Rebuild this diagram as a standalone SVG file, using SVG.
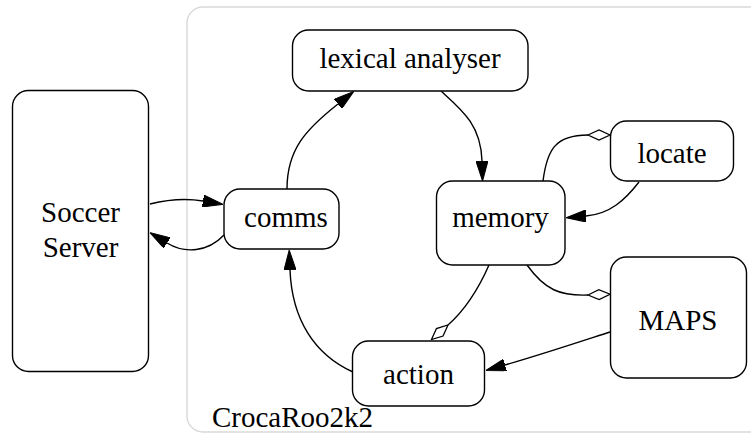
<svg xmlns="http://www.w3.org/2000/svg" width="751" height="435" viewBox="0 0 751 435">
<defs>
<style>
.node rect{fill:#fff;stroke:#000;stroke-width:1.4}
.lbl{font-family:"Liberation Serif","Times New Roman",serif;font-size:29px;fill:#000;text-anchor:middle}
.edge{fill:none;stroke:#000;stroke-width:1.4}
.ar{marker-end:url(#arrow)}
.dm{marker-end:url(#diamond)}
</style>
<marker id="arrow" viewBox="0 0 20 12" refX="0" refY="6" markerWidth="20" markerHeight="12" markerUnits="userSpaceOnUse" orient="auto">
<path d="M0,0 L20,6 L0,12 Z" fill="#000" stroke="#000" stroke-width="1"/>
</marker>
<marker id="diamond" viewBox="-1 -1 24 12" refX="0" refY="5" markerWidth="24" markerHeight="12" markerUnits="userSpaceOnUse" orient="auto">
<path d="M0,5 L11,0 L22,5 L11,10 Z" fill="#fff" stroke="#000" stroke-width="1.3"/>
</marker>
</defs>
<rect width="751" height="435" fill="#fff"/>
<g id="cluster_CrocaRoo2k2">
<rect x="187" y="7" width="600" height="425" rx="16" fill="none" stroke="#d9d9d9" stroke-width="1.4"/>
<text class="lbl" x="212" y="427" style="text-anchor:start">CrocaRoo2k2</text>
</g>
<g id="edges">
<path class="edge ar" d="M150,204 C170,199 185,198 203,201"/>
<path class="edge ar" d="M224,235 C208,252 185,254 167,243"/>
<path class="edge ar" d="M287,189 C287,150 305,130 338,104"/>
<path class="edge ar" d="M441,91 C462,110 481,125 482,161"/>
<path class="edge dm" d="M543,181 C547,150 555,135 588,135"/>
<path class="edge ar" d="M639,182 C625,200 610,214 586,216"/>
<path class="edge dm" d="M527,265 C545,290 560,296 588,295"/>
<path class="edge dm" d="M489,265 C478,290 465,310 448,325"/>
<path class="edge ar" d="M610,332 C570,345 540,355 505,365"/>
<path class="edge ar" d="M353,372 C315,355 292,320 290,270"/>
</g>
<g id="soccer_server" class="node">
<rect x="12.5" y="90.5" width="136" height="281" rx="16"/>
<text class="lbl" x="80.5" y="222">Soccer</text>
<text class="lbl" x="80.5" y="257">Server</text>
</g>
<g id="lexical_analyser" class="node">
<rect x="292.5" y="30" width="235.5" height="61" rx="16"/>
<text class="lbl" x="410" y="68">lexical analyser</text>
</g>
<g id="comms" class="node">
<rect x="224" y="189" width="115" height="60" rx="16"/>
<text class="lbl" x="286" y="227">comms</text>
</g>
<g id="memory" class="node">
<rect x="436.5" y="181" width="128.5" height="84" rx="16"/>
<text class="lbl" x="500.5" y="227">memory</text>
</g>
<g id="locate" class="node">
<rect x="610.5" y="121" width="123" height="60" rx="16"/>
<text class="lbl" x="672" y="163">locate</text>
</g>
<g id="MAPS" class="node">
<rect x="610.5" y="257" width="136" height="121" rx="16"/>
<text class="lbl" x="678" y="330">MAPS</text>
</g>
<g id="action" class="node">
<rect x="352.5" y="341" width="132" height="65" rx="16"/>
<text class="lbl" x="418.5" y="384">action</text>
</g>
</svg>
